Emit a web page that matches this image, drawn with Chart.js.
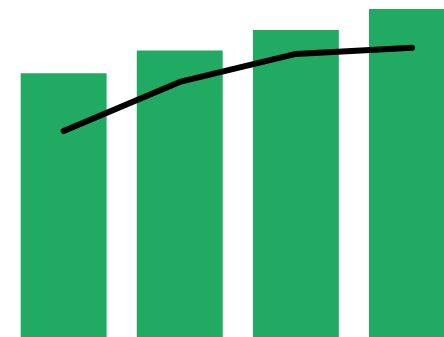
<!DOCTYPE html>
<html>
<head>
<meta charset="utf-8">
<script src="https://cdn.jsdelivr.net/npm/chart.js@4/dist/chart.umd.min.js"></script>
<style>
  html, body { margin: 0; padding: 0; background: #ffffff; overflow: hidden; }
  #wrap { position: absolute; left: 0; top: 0; }
</style>
</head>
<body>
<div id="wrap"><canvas id="comboChart" width="470" height="337"></canvas></div>
<script>
// values (scale 0-100, axes hidden)
const categories = ['1', '2', '3', '4'];
const barValues = [78.3, 85.0, 91.1, 97.3];
const lineValues = [61.1, 75.7, 84.0, 85.8];

const ctx = document.getElementById('comboChart').getContext('2d');
const comboChart = new Chart(ctx, {
    type: 'bar',
    data: {
        labels: categories,
        datasets: [{
            type: 'line',
            data: lineValues,
            borderColor: '#000000',
            borderWidth: 6,
            borderCapStyle: 'round',
            borderJoinStyle: 'round',
            pointRadius: 0,
            tension: 0,
            fill: false,
            order: 0
        }, {
            type: 'bar',
            data: barValues,
            backgroundColor: '#21AA62',
            borderWidth: 0,
            barPercentage: 0.74,
            categoryPercentage: 1,
            order: 1
        }]
    },
    options: {
        responsive: false,
        animation: false,
        devicePixelRatio: 1,
        layout: {
            padding: { left: 5.6, right: 0, top: 0, bottom: 0 }
        },
        plugins: {
            legend: { display: false },
            tooltip: { enabled: false }
        },
        scales: {
            x: { display: false },
            y: { display: false, min: 0, max: 100 }
        }
    }
});
</script>
</body>
</html>
